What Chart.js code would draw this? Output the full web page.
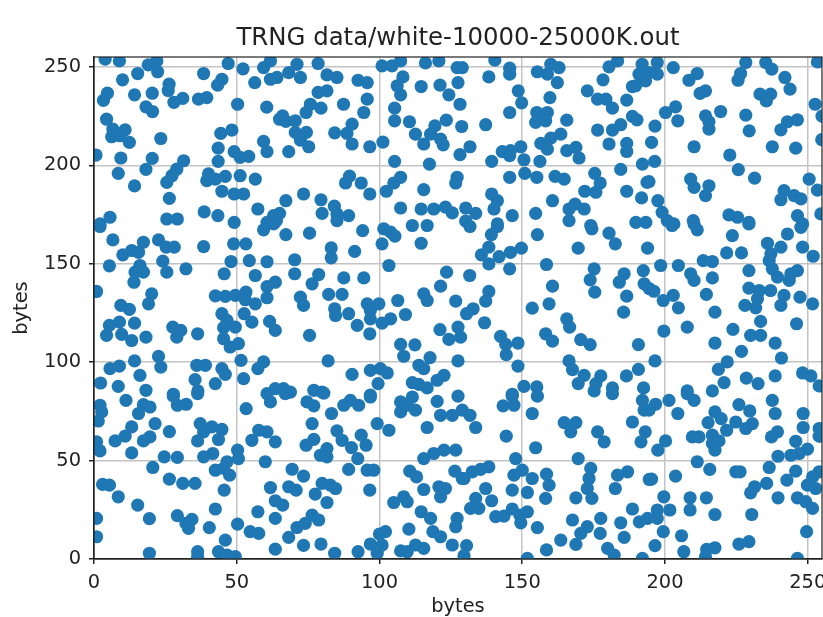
<!DOCTYPE html>
<html>
<head>
<meta charset="utf-8">
<title>TRNG data</title>
<script src="https://cdn.jsdelivr.net/npm/chart.js@4"></script>
<style>
  html, body { margin: 0; padding: 0; background: #fff; }
  canvas { display: block; filter: blur(0.5px); }
</style>
</head>
<body>
<canvas id="grafica" width="823" height="617"></canvas>
<script>
const titulo = 'TRNG data/white-10000-25000K.out';
const etiquetaEje = 'bytes';
const ticksX = [0, 50, 100, 150, 200, 250];
const ticksY = [0, 50, 100, 150, 200, 250];

// x,y byte pairs, one list per part of the plot
const arribaA = [[3.9,253.9],[8.9,253],[19,251],[22,253],[22.3,247.5],[15.3,246.6],[10,243.4],[47,251.7],[38.4,246.6],[52.2,249],[44.8,243.7],[43.3,240.7],[56.3,242],[59.4,249.6],[61.8,253],[61.8,243.7],[26.3,241.2],[26,238],[4.7,236.6],[3.3,233],[14.2,235.8],[20.4,236.6],[31.1,234],[28,232],[36.6,233.6],[39.5,234.4],[50.3,231],[60.5,229.5],[18.2,229.7],[20.5,227.3],[4.4,223.4],[65,223.4],[6.6,218.4],[10.9,218],[6.2,214.5],[9.1,215],[12.4,211.6],[23.4,213.6],[44.4,216.2],[48.3,217.9],[59.4,212.1],[60.6,206.9],[43.5,208.7],[49.1,206.9],[54.2,204.5],[43.5,202],[51.2,204],[0.7,205.2],[9.4,203.7],[20.4,203.5],[31.4,202.3],[18.2,197.9],[8.5,195.9],[29,198],[27.3,194.7],[25.5,191.3],[40.1,195.6],[39.5,192.2],[46,194.4],[42.5,193],[51.2,194.7],[56.5,193],[14.2,189.5],[44.8,186.8],[49.1,185.4],[52.4,185.4],[26.4,183.2],[57.4,177.8],[38.6,176.3],[43.4,174.4],[25.5,172.7],[29.2,172.7],[5.6,173.6],[2.1,170.2],[49.1,171],[62.9,174.4],[60.6,171]];
const arribaB = [[64.1,244.6],[71.1,251.3],[78.5,251.7],[68.2,247.1],[72.3,244.6],[81.6,245.9],[85.1,244.6],[92.5,243.2],[95.7,242],[100.9,250.5],[104.4,250.5],[107.4,253],[108.2,244.9],[106.2,240.4],[107.4,235.8],[114.6,240],[121.2,240.7],[127.5,242],[124.3,235.8],[116.1,252],[120.8,253],[127.2,249.6],[81.6,237.8],[78.5,237],[95.7,233.6],[75.8,231],[79.5,229],[74.3,226.8],[87.4,231],[105.3,229],[94.5,226.8],[128.2,231],[66.1,225.1],[67.2,222.3],[70.5,222.6],[90.4,220.9],[105.3,222.6],[110.5,222.1],[123.4,222.9],[119.4,220],[70.5,216.7],[74.4,216.7],[84.3,216.5],[88.6,216.2],[112.6,215.8],[117.9,215.8],[128.8,219.7],[72.3,212.8],[75.2,209.4],[90.4,210.8],[96.6,209.4],[101.2,211.8],[115.5,210.8],[121.4,213.3],[122.3,210.4],[68.2,206.9],[128.2,205.4],[105.3,202],[117.5,200.6],[89.5,194.5],[107.4,193.9],[127.2,193.9],[88.1,191],[93.6,191],[105,191],[126.7,191],[102.4,186.8],[96.6,185.4],[115.5,187.6],[73.4,185.4],[67.2,182],[79.5,182.5],[84.2,179.2],[65,175.6],[107.4,178.3],[114.6,177.8],[119,177.8],[123.1,178.7],[125.5,175.8],[79.9,175.6],[85.1,175.3],[89.2,174.4],[63.9,171.9],[85.1,171.9]];
const arribaC = [[140.4,253.4],[129,249.6],[145.6,249.3],[145.6,246.3],[138.3,244.9],[155.3,247.5],[160,251.3],[162.9,249.6],[158.8,246.3],[162.3,242],[180.4,250],[183.4,253],[178.3,243.4],[188.6,240],[148.6,237.8],[172.8,237.8],[149.8,231.7],[159.7,234.4],[176.4,233.6],[179.3,233.6],[186.6,233.1],[181.6,229],[145.6,226.8],[155.1,226.8],[158.8,226.8],[154.7,221.8],[158.2,222.6],[165.6,222.9],[188.6,224.8],[190.2,223.1],[137.2,220.6],[176.4,217.9],[184.5,220.6],[181.6,217.9],[163.5,215.8],[160,213.8],[156.5,211.1],[180.4,210.8],[186.6,211.1],[186.6,207],[131.7,209.4],[149.5,209.4],[145.9,207.4],[143,206.9],[145.6,204.9],[158.8,208.2],[165.6,207.4],[168.8,209.1],[169.9,203.7],[139.3,202],[150.6,202.8],[156.2,202],[184.5,197.9],[192.1,200.6],[150.9,195.9],[145.6,193.9],[155.1,193.9],[161.5,194.4],[164.7,193],[175.4,195.9],[177.3,191],[171.9,186.8],[175.8,186.3],[186.6,186.8],[193.7,191.3],[139.3,185.4],[141.3,182],[140.1,177.8],[160.6,182],[191.8,183.4],[168.5,180.3],[171.7,177.8],[166.4,177.8],[130.2,178.3],[133.7,175.6],[146.5,174.4],[154.7,175.6],[166.4,171.9],[130.2,171.6],[189.8,171],[193.3,171],[141.3,170.2],[174,169.4]];
const arribaD = [[192,251.3],[197.3,252.2],[202.9,249.6],[190.9,246.3],[194.4,247.1],[197.3,246.3],[193.2,242.9],[189.7,240.4],[211.3,246.6],[208.4,243.2],[228.3,252.2],[235.3,252.2],[237.4,248.8],[226.5,246.6],[225.6,243.2],[242,244.6],[243.8,238.7],[253.4,252.5],[214.2,237.8],[212.3,236.5],[233.3,236.1],[237,236.1],[235.5,232.7],[252.6,231],[203.7,229.7],[200.2,226.8],[219.5,227.3],[228.3,225.5],[214.2,225.1],[204.5,222.6],[215.4,222.1],[215.4,218.4],[196.5,219.9],[246.4,223.1],[242.9,222.1],[240.6,218],[229.5,217.5],[255,225],[195.3,211.6],[210.2,209.4],[237.6,209.4],[245.8,208.7],[254.9,213],[222.7,205.2],[196.4,202],[225.7,197.8],[231.4,193.5],[250.5,193],[194.4,191.7],[209,193],[210.2,188.8],[215.4,189.6],[214.2,184.6],[253.4,187.4],[241.7,187.1],[245.2,184.6],[247.6,182.9],[240.6,182.5],[197.5,182],[199,176.1],[254.6,175.3],[222.4,174.8],[225.4,173.6],[229.4,171],[209.9,171.9],[246.4,174.4],[248.2,170.2],[203.1,170.2],[200.8,171.9]];
const medioA = [[2.1,168.9],[6.6,162.1],[59.4,167.2],[62.9,170.2],[17.3,160.9],[22.6,162.1],[13.2,156.7],[10.1,154.5],[15.6,155.8],[25.3,158.4],[28.1,158.4],[38.4,158.7],[48.9,160.1],[53.2,160.1],[24.1,151.3],[5.4,148.9],[16.1,149.1],[14.4,145.7],[17.3,145.7],[25.5,145.7],[32.2,147.4],[48,151.1],[54.4,151.6],[60.6,151],[45.6,144.9],[56.5,144],[14,140.6],[0.9,135.9],[63.5,140.6],[60.6,138.4],[20.2,134.7],[19.1,129.6],[42.5,133.7],[46,133.4],[49.5,133.9],[53.2,135.6],[53,131.7],[56.5,129.6],[60.6,132.7],[9.4,128.8],[12.4,126.8],[44.8,124.6],[46.6,121.2],[52.6,124.6],[55.3,120.3],[61.5,120.7],[63.5,116.1],[5.4,118.7],[8.9,120.3],[14.2,119.8],[27.6,117.8],[30.4,116.1],[29,112.7],[36.3,114.4],[45.4,117.5],[49.5,117.8],[4.4,113.6],[9.7,114.1],[13.2,111],[18.2,112.7],[45.4,111.9],[47.7,107.7],[50.6,109.4],[22.6,102.9],[14.2,100.6],[51.5,100.9],[59.4,100.1],[57.4,96.7],[8.9,98],[5.6,96.7],[23.4,97.5],[36,98.4],[39,98.4],[44.8,96.7],[46,93.8],[16.1,93.3],[35.4,91.1],[52.4,91.6],[42.5,89.1],[2.3,89.4],[8.5,87.7],[18.2,85.7],[36.4,85.4],[27.8,83.7],[63.5,86.5],[60.6,84]];
const medioB = [[67.2,164.8],[75.5,165.5],[94.1,166.8],[101.5,167.7],[103.9,166],[105.4,164],[111.5,169.4],[116.7,169.4],[100.9,160.1],[114.6,160.4],[83.1,158],[83.1,153],[91.3,156.3],[70.3,152],[103.3,149.1],[70.3,144.9],[78.7,144.5],[76.4,139.8],[87.5,142.8],[94.5,142.8],[123.5,145.7],[121.4,138.6],[115.5,134.7],[116.7,131.3],[82.2,134.4],[86.9,134.4],[72.3,133],[73.4,128.8],[126.7,131],[106.4,131.3],[95.7,129.6],[99.8,129.6],[84.3,127.1],[89.2,124.6],[84.6,123.7],[96.8,126.3],[96.8,122],[109.1,124.2],[103.9,122],[100.9,119.8],[92.2,118.7],[121.2,116.5],[127.5,117.8],[128.4,112.7],[124.3,111.6],[75.5,113.6],[96.6,114.4],[107.4,109],[112.4,108.8],[108.5,103],[82,100.6],[117.7,102.3],[127.5,100.6],[113.8,98.4],[115.5,96.7],[96.8,95.8],[100.3,96.7],[102.7,94.5],[90.4,93.8],[122.6,93.3],[120.2,90.8],[111.5,89.6],[113.8,88.7],[116.7,86.9],[99.5,89.1],[66.4,86.5],[68.8,84.8],[77,85.7],[79.9,84.8],[96.8,83.2]];
const medioC = [[131.7,168.9],[141.3,168.9],[139.2,164.8],[155.3,164.8],[174.4,167.7],[180.4,165.5],[182.6,160.1],[169.6,157.9],[193.9,157.9],[138.3,158.4],[135.7,154.5],[141.9,153.6],[145.9,155.8],[149.7,157.9],[138.3,149.9],[145.6,147.4],[158.5,149.6],[175.2,147.4],[192.4,146.5],[131.6,144],[185.7,144.9],[173.8,141.8],[184,140.6],[160.6,138.6],[192.7,139.8],[194.5,137.3],[175.4,135.6],[138.3,135.9],[137.2,131],[186.6,133.5],[159.4,129.6],[153.5,127.4],[132.8,127.1],[130.5,124.6],[185.5,125.4],[136.8,120],[165.6,122],[166.6,117.8],[158.2,114.4],[160.6,110.7],[170.5,111.4],[173.8,108.9],[190.7,108.9],[142.4,113.1],[148.5,109.7],[144.2,109],[144.4,103.8],[166.4,100.6],[167.6,96.2],[148.5,98],[190.7,96.3],[186.5,93],[171.7,93.3],[169.6,89.1],[177.5,93],[175.8,89.1],[175.2,85.4],[181.6,86.9],[181.6,84],[192.5,86.9],[150.6,87.7],[155.1,87.4],[146.5,83.7]];
const medioD = [[202.5,169.4],[210.2,170.2],[211.3,167.2],[229.4,170.2],[247.6,168.5],[223.6,164.3],[242.9,165.1],[235.9,160.4],[240.6,158.4],[248.2,158.4],[237.1,155],[221.6,155.5],[226.8,155.5],[251.9,153.8],[213.4,151.6],[216.6,151.1],[236.5,151.6],[198.5,149.1],[204.7,149.1],[229.4,146.5],[237.6,147.4],[246.4,146.5],[209,144.9],[216.6,142.8],[210.2,141.5],[239.4,143.2],[244.1,144.9],[243.5,141.5],[196.1,136],[229.4,137.6],[233,136.4],[237,136.4],[241.7,133.9],[214.5,134.4],[202.9,133.9],[199.4,131.3],[232.4,132.2],[247.3,133],[251.7,129.6],[204.7,127.6],[228,128.8],[231.8,127.6],[240.6,128.8],[217.5,125.4],[233.5,120.7],[246.1,119.5],[207.8,117.8],[199.6,115.8],[223.8,116.6],[230,113.6],[233.5,113.6],[217.5,109.7],[238.6,109.7],[226.8,105.5],[196.5,100.6],[240.8,102.1],[221.8,100.1],[218.7,96.3],[248.2,94.5],[251.1,93],[238.6,93],[228.5,91.9],[232.6,89.1],[220.7,89.6],[254,87.9],[207.8,85.4],[216.6,85.4]];
const abajoA = [[11.2,80.6],[27.8,82.7],[36.3,84],[2.1,78.1],[2.7,74.7],[1.5,70.1],[17.3,78.4],[19.6,77.2],[15.6,73.9],[29.2,78.1],[32.3,78.6],[53.3,76.4],[61.8,79.8],[21.4,68.8],[13.2,67.1],[26.4,64.7],[37.2,68.8],[41.3,67.1],[44.8,65.8],[38.4,64.6],[10.9,62.4],[7.4,60],[19.6,62],[17.3,60],[36.3,60],[43.6,60.7],[57.7,65.4],[60.6,64.6],[55.3,60.3],[63.5,59.5],[0.9,59.5],[2.1,54.9],[13.2,53.9],[50.3,55.3],[41.6,53.6],[38.4,51.9],[24.6,51.9],[29.2,51.6],[50.6,51],[46.6,49.4],[60,49.4],[20.6,46.5],[42.5,45.1],[45.4,46],[47.5,42.6],[26.4,40.6],[31.1,38.4],[35.4,38.4],[3,37.9],[5.4,37.5],[45.6,35],[61.8,36.3],[8.5,31.6],[63.5,29.6],[15.3,27.4],[42.5,25.4],[57.4,24],[29.2,22],[34.3,20.1],[19.4,20.5],[32.2,18.1],[0.9,20.6],[63.5,20.6],[40.4,15.9],[33.1,15.6],[50.3,17.7],[54.7,13.9],[57.7,13],[0.9,11.3],[46,9.6],[36.3,3.7],[19.4,2.9],[36.3,1.2],[43.6,3.7],[46.6,2],[49.5,1.2],[63.5,5]];
const abajoB = [[67,84],[80.5,84.3],[74.6,79.8],[77,77.8],[83.2,73.9],[87.5,78.1],[89.8,80.6],[92.7,78.1],[96.8,82.3],[107.4,79.8],[107.4,74.7],[111.5,82.3],[109.7,78.1],[112.6,75.6],[120.2,80.1],[127.5,82.7],[121.4,73],[125.5,73],[129,75.6],[76.4,68.8],[99.2,68.8],[103.3,65.4],[116.7,66.8],[85.1,65.1],[93.6,62.9],[86.9,60.3],[77,60.8],[74.3,57.8],[90.2,56.6],[95.3,57.8],[81.6,56.1],[79.3,52.7],[81.6,51.9],[92.4,51],[126.7,55.3],[122.6,55.3],[119,53.6],[115.5,51],[69.4,45.6],[73.4,42.1],[89.2,45.5],[95.7,45.1],[98,45.1],[110.6,44.6],[113,41.7],[126.4,44.6],[129,40.9],[79.9,38.4],[82.8,37.5],[84.6,35.8],[68.2,36.7],[70.8,35],[96.6,35],[115.5,35.3],[120.8,36.7],[123.1,35.8],[121.4,31.6],[77.5,33],[81.6,28.7],[108.5,31.6],[105,28.7],[109.7,29.1],[66.1,27.4],[114.6,24],[117.9,20.6],[127.2,20.6],[76.4,22.3],[78.7,19.8],[74,18.1],[71.1,16],[126.7,16.4],[110.3,15.2],[102.1,13.9],[100,12.7],[118.7,13.9],[121.4,11.3],[68.2,11],[73.4,6.9],[79.5,7.6],[96.8,7.6],[100.9,7.1],[125.5,7.1],[112.6,7.1],[115.5,5.4],[107.4,4.1],[109.7,3.7],[92.5,3.7],[84.3,2.9],[99.2,2.9]];
const abajoC = [[146.5,82.7],[155.3,82.7],[147.1,78.1],[143.3,77.8],[131.7,73],[153.5,73.9],[192.7,75.6],[192.1,80.6],[133.7,66.8],[188.6,69.6],[164.7,69.3],[168.8,69.3],[167,64.6],[176.4,64.6],[178.7,59.5],[144.4,62.4],[193.1,64.6],[191.6,59.5],[154.7,56.5],[147.7,51],[169.6,51],[138.3,46.8],[135.4,45.5],[132.5,44.3],[129.6,40.9],[174,46],[150,45.1],[147.1,42.6],[153.5,40.9],[158.5,43.1],[159.4,37.5],[173.4,40.9],[172.8,35.8],[186.9,44.3],[183.4,42.6],[182.6,35.8],[194.5,40.4],[137.2,35.8],[146.5,35],[151.8,33.8],[158.2,30.8],[168.8,31.1],[174.4,30.8],[133.7,30.8],[139.3,29.6],[131.9,25.7],[134.8,25.7],[188.6,25.4],[146.5,25.4],[151.8,24],[140.7,21.5],[143.6,21.8],[149.2,22.3],[149.5,18.4],[167.6,19.8],[177.5,20.6],[184.5,18.4],[191,18.9],[193.9,20.6],[155.3,15.9],[172.8,16.4],[170.5,13],[177.3,13],[185.7,11],[163.5,9.6],[168.8,7.4],[179.9,5.4],[130.5,6.8],[158.5,4.6],[182.2,2],[151.8,0.3],[129.6,1.7],[192.1,0.3]];
const abajoD = [[201.4,80.6],[207.8,84],[210.2,80.6],[196.7,78.6],[194.4,75.6],[204.5,73.9],[217.5,74.7],[219.7,71.3],[215.1,69.3],[225.9,78.4],[229.7,75.2],[237.6,80.6],[238.6,73.9],[248.4,73.9],[224.8,69.6],[230.6,68.8],[228.3,66.3],[221.6,65.4],[248.4,66.8],[254,66.3],[254,62.4],[239.4,64.6],[237.3,62],[245.8,59.8],[209.6,62],[211.9,62],[216.6,62.9],[218.9,60],[216.6,58.7],[217.5,55.3],[200.2,60],[197.5,55.3],[249.9,55.8],[247,53.6],[244.1,52.7],[239.6,52.2],[211.3,49.4],[215.7,45.5],[224.8,44.3],[226.3,44.3],[236.5,46.5],[245.8,44.6],[254,44.3],[251.7,41.7],[195.3,40.6],[203.7,42.1],[242.7,40.1],[235.6,38.4],[231.4,36.7],[230,33.6],[249.9,37.5],[252.8,35.8],[199.6,31.6],[208.8,31.1],[214.5,31.1],[239.6,31.1],[246.4,31.1],[249.3,29.1],[251.7,25.7],[208.8,24.9],[201.7,24.9],[197.3,24.9],[217.5,22.6],[230.4,22.6],[197.3,20.6],[199.4,13.9],[205.8,11.8],[249.6,13.9],[196.5,6.8],[229.4,8.8],[225.9,7.6],[217.5,5.7],[214.6,4.9],[206.6,3.7],[214.2,1.2],[246.4,0.3]];

const pares = [].concat(arribaA, arribaB, arribaC, arribaD, medioA, medioB, medioC, medioD, abajoA, abajoB, abajoC, abajoD);
const puntos = pares.map(p => ({ x: p[0], y: p[1] }));

// top and right spines, Chart.js only draws the axis side
const marco = {
    id: 'marco',
    afterDatasetsDraw(chart) {
        const { ctx, chartArea: a } = chart;
        ctx.save();
        ctx.strokeStyle = '#222';
        ctx.lineWidth = 1.2;
        ctx.strokeRect(a.left, a.top, a.right - a.left, a.bottom - a.top);
        ctx.restore();
    }
};

const fuente = { family: '"DejaVu Sans"', size: 19.4 };

new Chart(document.getElementById('grafica'), {
    type: 'scatter',
    data: {
        datasets: [{
            label: etiquetaEje,
            data: puntos,
            backgroundColor: '#1f77b4',
            borderColor: '#1f77b4',
            borderWidth: 0,
            pointRadius: 6.6,
            clip: 0
        }]
    },
    options: {
        responsive: false,
        animation: false,
        layout: { autoPadding: false, padding: { right: 1 } },
        plugins: {
            legend: { display: false },
            tooltip: { enabled: false },
            title: {
                display: true,
                fullSize: false,
                text: titulo,
                color: '#222',
                font: { family: '"DejaVu Sans"', size: 24.4, weight: 'normal', lineHeight: 1 },
                padding: { top: 26, bottom: 6.6 }
            }
        },
        scales: {
            x: {
                type: 'linear',
                min: 0,
                max: 255,
                afterBuildTicks: s => { s.ticks = ticksX.map(v => ({ value: v })); },
                afterFit: s => { s.height = 58; s.paddingLeft = 0; s.paddingRight = 0; },
                grid: { color: '#c4c4c4', lineWidth: 1.5, tickColor: '#222', tickLength: 5 },
                border: { color: '#222', width: 1.2 },
                ticks: { color: '#222', font: fuente, maxRotation: 0, padding: 7 },
                title: { display: true, text: etiquetaEje, color: '#222', font: { ...fuente, lineHeight: 1 }, padding: { top: 2, bottom: 0 } }
            },
            y: {
                type: 'linear',
                min: 0,
                max: 255,
                afterBuildTicks: s => { s.ticks = ticksY.map(v => ({ value: v })); },
                afterFit: s => { s.width = 94; },
                grid: { color: '#c4c4c4', lineWidth: 1.5, tickColor: '#222', tickLength: 5 },
                border: { color: '#222', width: 1.2 },
                ticks: { color: '#222', font: fuente, padding: 8 },
                title: { display: true, text: etiquetaEje, color: '#222', font: fuente, padding: { top: 10, bottom: 4 } }
            }
        }
    },
    plugins: [marco]
});
</script>
</body>
</html>
